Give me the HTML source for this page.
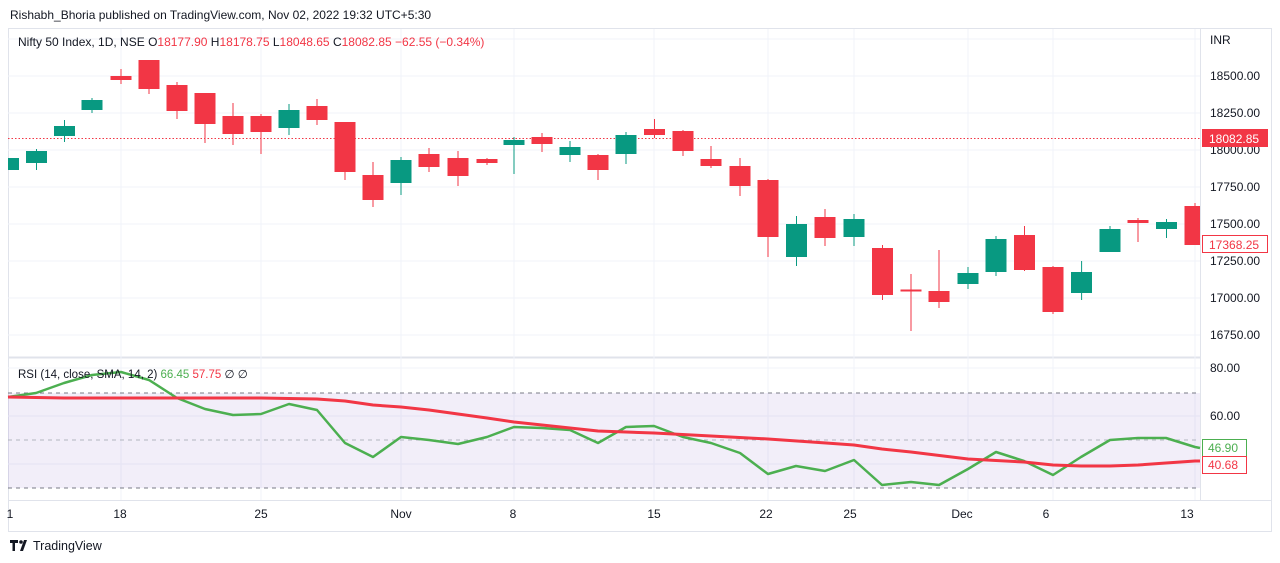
<!DOCTYPE html>
<html><head><meta charset="utf-8"><style>
body{margin:0;background:#fff;width:1280px;height:563px;overflow:hidden;font-family:"Liberation Sans",sans-serif}
svg{display:block}
text{font-family:"Liberation Sans",sans-serif}
</style></head><body>
<svg width="1280" height="563" viewBox="0 0 1280 563" xmlns="http://www.w3.org/2000/svg">
<defs><clipPath id="pc"><rect x="8" y="29" width="1192" height="328"/></clipPath></defs>
<rect width="1280" height="563" fill="#fff"/>
<text x="10" y="19" font-size="12" fill="#131722">Rishabh_Bhoria published on TradingView.com, Nov 02, 2022 19:32 UTC+5:30</text>
<rect x="8.5" y="28.5" width="1263" height="503" fill="none" stroke="#e0e3eb"/>
<line x1="1200.5" y1="29" x2="1200.5" y2="500" stroke="#e0e3eb"/>
<line x1="8" y1="500.5" x2="1271" y2="500.5" stroke="#e0e3eb"/>
<line x1="8" y1="357.5" x2="1200" y2="357.5" stroke="#e0e3eb" stroke-width="2"/>
<g stroke="#f0f3fa">
<line x1="8" y1="39" x2="1200" y2="39"/><line x1="8" y1="76" x2="1200" y2="76"/><line x1="8" y1="113" x2="1200" y2="113"/><line x1="8" y1="150" x2="1200" y2="150"/><line x1="8" y1="187" x2="1200" y2="187"/><line x1="8" y1="224" x2="1200" y2="224"/><line x1="8" y1="261" x2="1200" y2="261"/><line x1="8" y1="298" x2="1200" y2="298"/><line x1="8" y1="335" x2="1200" y2="335"/>
<line x1="8" y1="368" x2="1200" y2="368"/><line x1="8" y1="416" x2="1200" y2="416"/><line x1="8" y1="464" x2="1200" y2="464"/>
<line x1="121" y1="29" x2="121" y2="500"/><line x1="261" y1="29" x2="261" y2="500"/><line x1="401" y1="29" x2="401" y2="500"/><line x1="514" y1="29" x2="514" y2="500"/><line x1="654" y1="29" x2="654" y2="500"/><line x1="768" y1="29" x2="768" y2="500"/><line x1="854" y1="29" x2="854" y2="500"/><line x1="968" y1="29" x2="968" y2="500"/><line x1="1053" y1="29" x2="1053" y2="500"/><line x1="1195" y1="29" x2="1195" y2="500"/>
</g>
<text x="18" y="46" font-size="12" fill="#131722">Nifty 50 Index, 1D, NSE <tspan fill="#131722">O</tspan><tspan fill="#f23645">18177.90</tspan> H<tspan fill="#f23645">18178.75</tspan> L<tspan fill="#f23645">18048.65</tspan> C<tspan fill="#f23645">18082.85</tspan> <tspan fill="#f23645">−62.55 (−0.34%)</tspan></text>
<line x1="8" y1="138.5" x2="1200" y2="138.5" stroke="#f23645" stroke-dasharray="1.5,2"/>
<g clip-path="url(#pc)">
<g fill="#089981" stroke="#089981">
<line x1="8.5" x2="8.5" y1="158" y2="170"/><rect stroke="none" x="-2" y="158" width="21" height="12"/>
<line x1="36.5" x2="36.5" y1="149" y2="170"/><rect stroke="none" x="26" y="151" width="21" height="12"/>
<line x1="64.5" x2="64.5" y1="120" y2="142"/><rect stroke="none" x="54" y="126" width="21" height="10"/>
<line x1="92" x2="92" y1="98" y2="113"/><rect stroke="none" x="81.5" y="100" width="21" height="10"/>
<line x1="289" x2="289" y1="104" y2="135"/><rect stroke="none" x="278.5" y="110" width="21" height="18"/>
<line x1="401" x2="401" y1="157" y2="195"/><rect stroke="none" x="390.5" y="160" width="21" height="23"/>
<line x1="514" x2="514" y1="137" y2="174"/><rect stroke="none" x="503.5" y="140" width="21" height="5"/>
<line x1="570" x2="570" y1="141" y2="162"/><rect stroke="none" x="559.5" y="147" width="21" height="8"/>
<line x1="626" x2="626" y1="132" y2="164"/><rect stroke="none" x="615.5" y="135" width="21" height="19"/>
<line x1="796.5" x2="796.5" y1="216" y2="266"/><rect stroke="none" x="786" y="224" width="21" height="33"/>
<line x1="854" x2="854" y1="214" y2="246"/><rect stroke="none" x="843.5" y="219" width="21" height="18"/>
<line x1="968" x2="968" y1="267" y2="289"/><rect stroke="none" x="957.5" y="273" width="21" height="11"/>
<line x1="996" x2="996" y1="236" y2="276"/><rect stroke="none" x="985.5" y="239" width="21" height="33"/>
<line x1="1081.6" x2="1081.6" y1="261" y2="300"/><rect stroke="none" x="1071" y="272" width="21" height="21"/>
<line x1="1110" x2="1110" y1="226" y2="252"/><rect stroke="none" x="1099.5" y="229" width="21" height="23"/>
<line x1="1166.5" x2="1166.5" y1="219" y2="238"/><rect stroke="none" x="1156" y="222" width="21" height="7"/>
</g>
<g fill="#f23645" stroke="#f23645">
<line x1="121" x2="121" y1="69" y2="84"/><rect stroke="none" x="110.5" y="76" width="21" height="4"/>
<line x1="149" x2="149" y1="60" y2="94"/><rect stroke="none" x="138.5" y="60" width="21" height="29"/>
<line x1="177" x2="177" y1="82" y2="119"/><rect stroke="none" x="166.5" y="85" width="21" height="26"/>
<line x1="205" x2="205" y1="93" y2="143"/><rect stroke="none" x="194.5" y="93" width="21" height="31"/>
<line x1="233" x2="233" y1="103" y2="145"/><rect stroke="none" x="222.5" y="116" width="21" height="18"/>
<line x1="261" x2="261" y1="114" y2="154"/><rect stroke="none" x="250.5" y="116" width="21" height="16"/>
<line x1="317" x2="317" y1="99" y2="125"/><rect stroke="none" x="306.5" y="106" width="21" height="14"/>
<line x1="345" x2="345" y1="122" y2="180"/><rect stroke="none" x="334.5" y="122" width="21" height="50"/>
<line x1="373" x2="373" y1="162" y2="207"/><rect stroke="none" x="362.5" y="175" width="21" height="25"/>
<line x1="429" x2="429" y1="148" y2="172"/><rect stroke="none" x="418.5" y="154" width="21" height="13"/>
<line x1="458" x2="458" y1="151" y2="186"/><rect stroke="none" x="447.5" y="158" width="21" height="18"/>
<line x1="487" x2="487" y1="158" y2="165"/><rect stroke="none" x="476.5" y="159" width="21" height="4"/>
<line x1="542" x2="542" y1="133" y2="152"/><rect stroke="none" x="531.5" y="137" width="21" height="7"/>
<line x1="598" x2="598" y1="154" y2="180"/><rect stroke="none" x="587.5" y="155" width="21" height="15"/>
<line x1="654.5" x2="654.5" y1="119" y2="138"/><rect stroke="none" x="644" y="129" width="21" height="6"/>
<line x1="683" x2="683" y1="130" y2="156"/><rect stroke="none" x="672.5" y="131" width="21" height="20"/>
<line x1="711" x2="711" y1="146" y2="168"/><rect stroke="none" x="700.5" y="159" width="21" height="7"/>
<line x1="740" x2="740" y1="158" y2="196"/><rect stroke="none" x="729.5" y="166" width="21" height="20"/>
<line x1="768" x2="768" y1="179" y2="257"/><rect stroke="none" x="757.5" y="180" width="21" height="57"/>
<line x1="825" x2="825" y1="209" y2="246"/><rect stroke="none" x="814.5" y="217" width="21" height="21"/>
<line x1="882.5" x2="882.5" y1="245" y2="300"/><rect stroke="none" x="872" y="248" width="21" height="47"/>
<line x1="911" x2="911" y1="274" y2="331"/><rect stroke="none" x="900.5" y="289.5" width="21" height="2"/>
<line x1="939" x2="939" y1="250" y2="308"/><rect stroke="none" x="928.5" y="291" width="21" height="11"/>
<line x1="1024.5" x2="1024.5" y1="226" y2="271"/><rect stroke="none" x="1014" y="235" width="21" height="35"/>
<line x1="1053" x2="1053" y1="266" y2="314"/><rect stroke="none" x="1042.5" y="267" width="21" height="45"/>
<line x1="1138" x2="1138" y1="218" y2="242"/><rect stroke="none" x="1127.5" y="220" width="21" height="3"/>
<line x1="1195" x2="1195" y1="203" y2="245"/><rect stroke="none" x="1184.5" y="206" width="21" height="39"/>
</g>
</g>
<rect x="8" y="393" width="1192" height="95" fill="#7e57c2" fill-opacity="0.1"/>
<g stroke="#787b86" stroke-dasharray="4,4"><line x1="8" y1="393" x2="1200" y2="393"/><line x1="8" y1="488" x2="1200" y2="488"/></g>
<line x1="8" y1="440" x2="1200" y2="440" stroke="#b2b5be" stroke-dasharray="4,4"/>
<polyline fill="none" stroke="#4caf50" stroke-width="2.5" stroke-linejoin="round" points="8,397 36,393 64,383 92,375 121,372 149,380 177,398 205,409 233,415 261,414 289,404 317,410 345,443 373,457 401,437 429,440 458,444 487,437 514,427 542,428 570,430 598,443 626,427 654,426 683,437 711,443 740,453 768,474 796,466 825,471 854,460 882,485 911,482 939,485 968,469 996,452 1024,461 1053,475 1081,457 1110,440 1138,438 1166,438 1195,447 1200,448"/>
<polyline fill="none" stroke="#f23645" stroke-width="3" stroke-linejoin="round" points="8,397 64,398 121,398 200,398 261,398 317,399 345,401 373,405 401,407 429,410 487,418 514,422 542,425 570,428 598,431 654,433 711,436 768,439 826,443 854,445 882,449 911,452 968,459 1024,462 1053,465 1081,466 1110,466 1138,465 1166,463 1195,461 1200,461"/>
<text x="18" y="378" font-size="11.5" fill="#131722">RSI (14, close, SMA, 14, 2) <tspan fill="#4caf50">66.45</tspan> <tspan fill="#f23645">57.75</tspan> ∅ ∅</text>
<g font-size="12" fill="#131722">
<text x="1210" y="44">INR</text>
<text x="1210" y="80">18500.00</text><text x="1210" y="117">18250.00</text><text x="1210" y="154">18000.00</text><text x="1210" y="191">17750.00</text><text x="1210" y="228">17500.00</text><text x="1210" y="265">17250.00</text><text x="1210" y="302">17000.00</text><text x="1210" y="339">16750.00</text>
<text x="1210" y="372">80.00</text><text x="1210" y="420">60.00</text>
</g>
<rect x="1202" y="129" width="66" height="18" fill="#f23645"/>
<text x="1209" y="143" font-size="12" fill="#fff">18082.85</text>
<rect x="1202.5" y="235.5" width="65" height="17" fill="#fff" stroke="#f23645"/>
<text x="1209" y="249" font-size="12" fill="#f23645">17368.25</text>
<rect x="1202.5" y="439.5" width="44" height="17" fill="#fff" stroke="#4caf50"/>
<text x="1208" y="452" font-size="12" fill="#4caf50">46.90</text>
<rect x="1202.5" y="456.5" width="44" height="17" fill="#fff" stroke="#f23645"/>
<text x="1208" y="469" font-size="12" fill="#f23645">40.68</text>
<g font-size="12" fill="#131722" text-anchor="middle">
<text x="10" y="518">1</text><text x="120" y="518">18</text><text x="261" y="518">25</text><text x="401" y="518">Nov</text><text x="513" y="518">8</text><text x="654" y="518">15</text><text x="766" y="518">22</text><text x="850" y="518">25</text><text x="962" y="518">Dec</text><text x="1046" y="518">6</text><text x="1187" y="518">13</text>
</g>
<g fill="#131722"><path d="M10 540h8v3h-3v8h-2.5v-8H10z"/><circle cx="21" cy="542" r="1.8"/><path d="M20 551l4-11h3l-4 11z"/></g>
<text x="33" y="550" font-size="12.5" fill="#131722">TradingView</text>
</svg>
</body></html>
